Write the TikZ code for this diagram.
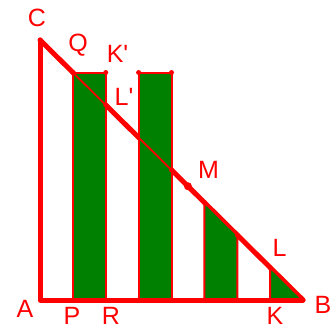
\documentclass[tikz,border=0pt]{standalone}
\usepackage{fontspec}
\setmainfont{Liberation Sans}[Ligatures=TeXOff]
\usetikzlibrary{calc}
\definecolor{dkgreen}{RGB}{0,128,0}
\begin{document}
\begin{tikzpicture}[x=1pt,y=1pt,
  thickline/.style={red, line width=5pt, line cap=round, line join=round},
  barfill/.style={fill=dkgreen, draw=red, line width=2pt, line join=round},
  thinline/.style={red, line width=1.8pt},
  pdot/.style={circle, fill=red, inner sep=0pt, minimum size=5pt},
  bigdot/.style={circle, fill=red, inner sep=0pt, minimum size=8pt},
  lab/.style={text=red, font=\fontsize{25}{25}\selectfont, inner sep=0pt, outer sep=0pt}]
\useasboundingbox (0,0) rectangle (336,330);
% main vertices
\coordinate (A) at (40,30);
\coordinate (C) at (40,290);
\coordinate (B) at (303,30);
% bottom points
\coordinate (P)  at (72.875,30);
\coordinate (R)  at (105.75,30);
\coordinate (b3) at (138.625,30);
\coordinate (b4) at (171.5,30);
\coordinate (b5) at (204.375,30);
\coordinate (b6) at (237.25,30);
\coordinate (K)  at (270.125,30);
% top points
\coordinate (Q)  at (72.875,257.5);
\coordinate (Kp) at (105.75,257.5);
\coordinate (Lp) at (105.75,225);
\coordinate (T3) at (138.625,257.5);
\coordinate (T4) at (171.5,257.5);
\coordinate (h4) at (171.5,160);
\coordinate (h5) at (204.375,127.5);
\coordinate (h6) at (237.25,95);
\coordinate (L)  at (270.125,62.5);
\coordinate (M)  at ($(Q)!0.5!(B)$);
% thick hypotenuse under the bars
\draw[thickline] (C) -- (B);
% bars
\filldraw[barfill] (P) rectangle (Kp);
\filldraw[barfill] (b3) rectangle (T4);
\filldraw[barfill] (b5) -- (h5) -- (h6) -- (b6) -- cycle;
\filldraw[barfill] (K) -- (L) -- (B) -- cycle;
% thin hypotenuse across bars
\draw[thinline] (Q) -- (h4);
% legs
\draw[thickline] (C) -- (A) -- (B);
% dots
\foreach \p in {Q,Kp,Lp,T3,T4,h4,h5,h6,L,P,R,b3,b4,b5,b6,K}
  \node[pdot] (d\p) at (\p) {};
\node[bigdot] (dM) at (M) {};
% labels
\node[lab] (lC)  at (37,312)   {C};
\node[lab] (lQ)  at (78,285)   {Q};
\node[lab] (lKp) at (117.5,276) {K'};
\node[lab] (lLp) at (124,233)  {L'};
\node[lab] (lM)  at (208.5,160.5) {M};
\node[lab] (lL)  at (279.5,82.5) {L};
\node[lab] (lA)  at (25,21)    {A};
\node[lab] (lP)  at (72,14.5)  {P};
\node[lab] (lR)  at (111,14.5) {R};
\node[lab] (lK)  at (275,14.5) {K};
\node[lab] (lB)  at (323,25)   {B};
\end{tikzpicture}
\end{document}
